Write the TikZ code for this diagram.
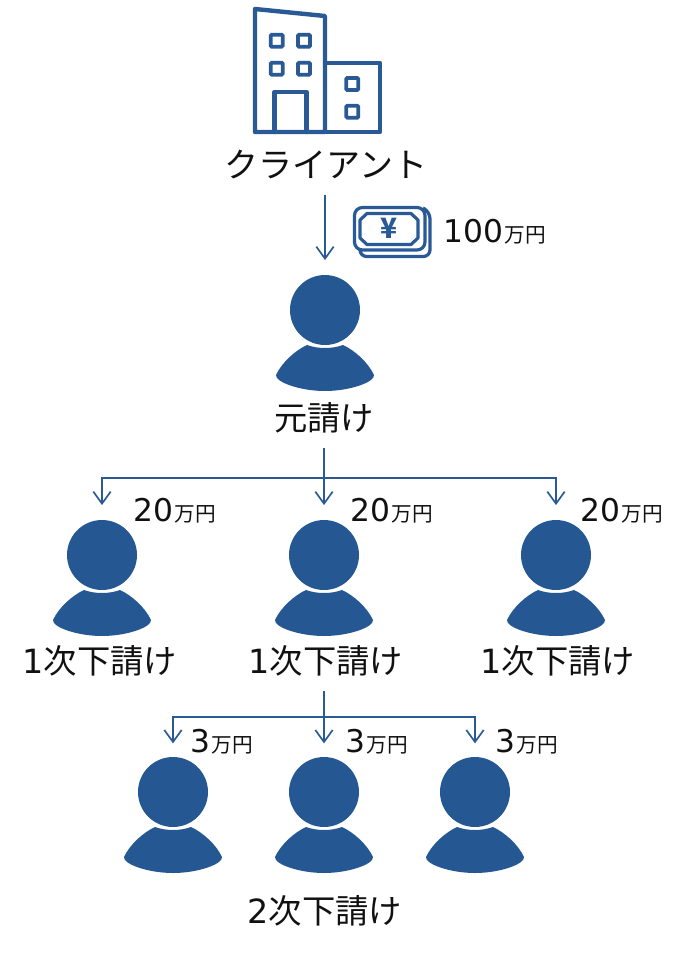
\documentclass[tikz,border=0pt]{standalone}
\usepackage{fontspec}
\setmainfont{Noto Sans CJK JP}[Scale=1]
\newfontfamily\digf{DejaVu Sans}
\usetikzlibrary{arrows.meta}
\definecolor{ink}{HTML}{2A5A96}
\definecolor{fillblue}{HTML}{255892}
\definecolor{txt}{HTML}{111111}
\newcommand{\fsz}[1]{\fontsize{#1}{#1}\selectfont}
\newcommand{\amt}[1]{{\fsz{23.5}\digf #1}\kern1pt{\fsz{15.5}万円}}
\newcommand{\persona}[2]{%
  \node[headshape] (#1) at (#2) {};
  \begin{scope}[shift={(#2)}]
    \fill[fillblue] (-18,35) .. controls (-7,39) and (7,39) .. (18,35)
      .. controls (29,40) and (43,52) .. (49,65)
      .. controls (50,72) and (25,81) .. (0,81)
      .. controls (-25,81) and (-50,72) .. (-49,65)
      .. controls (-43,52) and (-29,40) .. (-18,35) -- cycle;
  \end{scope}}
\tikzset{
  x=0.75pt, y=-0.75pt,
  headshape/.style={circle,fill=fillblue,draw=none,minimum size=52.5pt,inner sep=0pt},
  lab/.style={inner sep=0pt,text=txt,text height=0.8em,text depth=0.2em},
  biglab/.style={lab,font=\fsz{25.5}},
  midlab/.style={lab,font=\fsz{25}},
  amount/.style={inner sep=0pt,anchor=base west,text=txt},
  conn/.style={draw=ink,line width=1.25pt},
  arr/.style={conn,-{Straight Barb[length=9pt,width=13pt,line width=1.25pt]}},
  bld/.style={draw=ink,line width=3.3pt,line join=round,line cap=round},
  win/.style={draw=ink,line width=2.8pt,rounded corners=0.8pt},
  note/.style={draw=ink,line width=2.4pt,line join=round}
}
\begin{document}
\begin{tikzpicture}
\useasboundingbox (0,0) rectangle (681,954);
% building
\draw[bld] (255,9) -- (325,16) -- (325,132) -- (255,132) -- cycle;
\draw[bld] (325,63) -- (380,63) -- (380,132) -- (325,132);
\draw[bld] (274.5,132) -- (274.5,92) -- (306.5,92) -- (306.5,132);
\foreach \wx/\wy in {276.7/40.7,304/40.7,276.7/68.7,304/68.7,352.3/84,352.3/111.7}
  \draw[win] (\wx-6,\wy-6) rectangle (\wx+6,\wy+6);
% money
\draw[note,rounded corners=6pt] (354.5,207.5) rectangle (425,250);
\draw[note,rounded corners=5pt] (360,250) -- (360,256.5) -- (430,256.5) -- (430,212) -- (423,208);
\draw[note] (367,213.5) -- (411,213.5) -- (418,220) -- (418,238) -- (411,244.5) -- (367,244.5) -- (360,238) -- (360,220) -- cycle;
\node[inner sep=0pt,text=ink,font=\fsz{21}\bfseries] (yen) at (388.7,228) {¥};
% labels
\node[biglab] (client) at (326,173) {クライアント};
\node[midlab] (gen) at (324,426) {元請け};
\node[midlab] (s1a) at (100,669) {{\digf 1}次下請け};
\node[midlab] (s1b) at (326,669) {{\digf 1}次下請け};
\node[midlab] (s1c) at (558,669) {{\digf 1}次下請け};
\node[midlab] (s2) at (325,919) {{\digf 2}次下請け};
% people
\persona{p0}{325,310}
\persona{a}{102,555}
\persona{b}{324,555}
\persona{c}{556,555}
\persona{d}{173,792}
\persona{e}{324,792}
\persona{f}{475,792}
% amounts
\node[amount] (m0) at (443,242) {\amt{100}};
\node[amount] (m1) at (133,521) {\amt{20}};
\node[amount] (m2) at (350,521) {\amt{20}};
\node[amount] (m3) at (580,521) {\amt{20}};
\node[amount] (m4) at (190,752) {\amt{3}};
\node[amount] (m5) at (345,752) {\amt{3}};
\node[amount] (m6) at (495,752) {\amt{3}};
% connectors
\coordinate (j1) at (324,478);
\coordinate (j2) at (324,717);
\draw[arr,shorten <=11pt,shorten >=11pt] (client.south -| p0.north) -- (p0.north);
\draw[arr,shorten <=11pt,shorten >=11pt] (gen.south -| b.north) -- (b.north);
\draw[arr,shorten >=11pt] (j1) -- (j1 -| a.north) -- (a.north);
\draw[arr,shorten >=11pt] (j1) -- (j1 -| c.north) -- (c.north);
\draw[arr,shorten <=11pt,shorten >=10pt] (s1b.south -| e.north) -- (e.north);
\draw[arr,shorten >=10pt] (j2) -- (j2 -| d.north) -- (d.north);
\draw[arr,shorten >=10pt] (j2) -- (j2 -| f.north) -- (f.north);
\end{tikzpicture}
\end{document}
